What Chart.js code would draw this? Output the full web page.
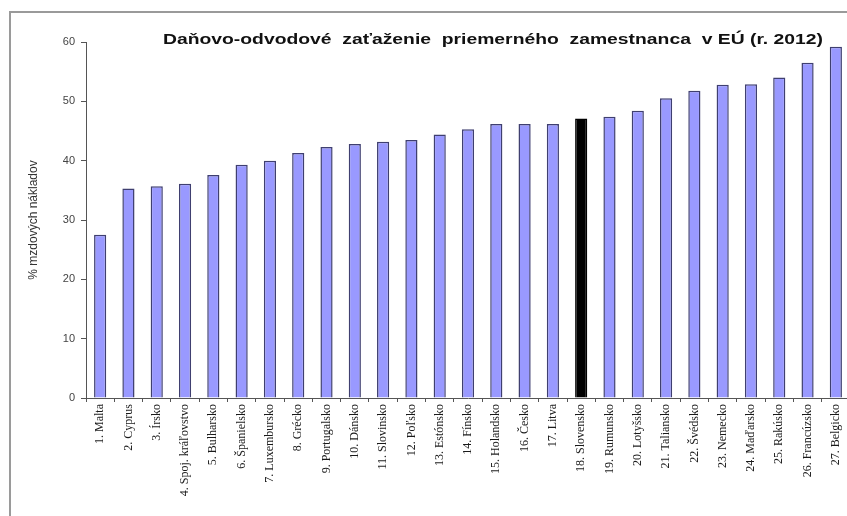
<!DOCTYPE html>
<html>
<head>
<meta charset="utf-8">
<script src="https://cdn.jsdelivr.net/npm/chart.js@4/dist/chart.umd.min.js"></script>
<style>
  html, body { margin: 0; padding: 0; background: #fff; overflow: hidden; }
  #wrap { position: relative; width: 860px; height: 516px; }
</style>
</head>
<body>
<div id="wrap"><canvas id="burdenChart" width="860" height="516"></canvas></div>
<script>
// Countries in order of the tax and levy burden.
const countries = [
    '1. Malta', '2. Cyprus', '3. Írsko', '4. Spoj. kráľovstvo', '5. Bulharsko',
    '6. Španielsko', '7. Luxembursko', '8. Grécko', '9. Portugalsko', '10. Dánsko',
    '11. Slovinsko', '12. Poľsko', '13. Estónsko', '14. Fínsko', '15. Holandsko',
    '16. Česko', '17. Litva', '18. Slovensko', '19. Rumunsko', '20. Lotyšsko',
    '21. Taliansko', '22. Švédsko', '23. Nemecko', '24. Maďarsko', '25. Rakúsko',
    '26. Francúzsko', '27. Belgicko'
];
// % of wage costs
const burden = [
    27.5, 35.3, 35.7, 36.1, 37.6, 39.3, 40.0, 41.3, 42.3, 42.8,
    43.2, 43.5, 44.4, 45.3, 46.2, 46.2, 46.2, 47.1, 47.4, 48.4,
    50.5, 51.8, 52.8, 52.9, 54.0, 56.5, 59.2
];
const highlighted = '18. Slovensko';
const yTicks = [0, 10, 20, 30, 40, 50, 60];

const chartTitle = 'Daňovo-odvodové  zaťaženie  priemerného  zamestnanca  v EÚ (r. 2012)';
const yTitle = '% mzdových nákladov';

// frame around the graph + title inside the plot
const framePlugin = {
    id: 'frame',
    beforeDraw(chart) {
        const ctx = chart.ctx;
        ctx.save();
        ctx.strokeStyle = '#9a9a9a';
        ctx.lineWidth = 2;
        ctx.beginPath();
        ctx.moveTo(10, 520);
        ctx.lineTo(10, 12);
        ctx.lineTo(870, 12);
        ctx.stroke();
        ctx.restore();
    },
    afterDraw(chart) {
        const ctx = chart.ctx;
        ctx.save();
        ctx.font = 'bold 15px "Liberation Sans", Arial, sans-serif';
        ctx.fillStyle = '#111';
        ctx.textAlign = 'left';
        ctx.textBaseline = 'middle';
        // stretch the title across the top of the plot
        const w = ctx.measureText(chartTitle).width;
        ctx.translate(163, 40);
        ctx.scale(660 / w, 1);
        ctx.fillText(chartTitle, 0, 0);
        ctx.restore();
    }
};

const ctx = document.getElementById('burdenChart').getContext('2d');
new Chart(ctx, {
    type: 'bar',
    data: {
        labels: countries,
        datasets: [{
            data: burden,
            backgroundColor: countries.map(c => c === highlighted ? '#000000' : '#9999ff'),
            borderColor: countries.map(c => c === highlighted ? '#000000' : '#3f3f70'),
            borderWidth: 1.5,
            borderSkipped: 'bottom',
            categoryPercentage: 1,
            barPercentage: 0.43
        }]
    },
    options: {
        responsive: false,
        animation: false,
        layout: {
            padding: { left: 12, top: 42, right: 10, bottom: 0 }
        },
        plugins: {
            legend: { display: false },
            tooltip: { enabled: false }
        },
        scales: {
            x: {
                offset: true,
                afterFit: (s) => { s.height = 118; },
                border: { color: '#555', width: 1 },
                grid: {
                    offset: true,
                    drawOnChartArea: false,
                    drawTicks: true,
                    tickLength: 4,
                    color: '#555'
                },
                ticks: {
                    autoSkip: false,
                    maxRotation: 90,
                    minRotation: 90,
                    padding: 2,
                    color: '#1a1a1a',
                    font: { family: '"Liberation Serif", "Times New Roman", serif', size: 12 }
                }
            },
            y: {
                min: 0,
                max: 60,
                afterFit: (s) => { s.width = 74; },
                afterBuildTicks: (s) => { s.ticks = yTicks.map(v => ({ value: v })); },
                border: { color: '#555', width: 1 },
                grid: {
                    drawOnChartArea: false,
                    drawTicks: true,
                    tickLength: 5,
                    color: '#555'
                },
                ticks: {
                    padding: 6,
                    color: '#444',
                    font: { family: '"Liberation Sans", Arial, sans-serif', size: 11 }
                },
                title: {
                    display: true,
                    text: yTitle,
                    color: '#333',
                    padding: { top: 14, bottom: 0 },
                    font: { family: '"Liberation Sans", Arial, sans-serif', size: 12 }
                }
            }
        }
    },
    plugins: [framePlugin]
});
</script>
</body>
</html>
